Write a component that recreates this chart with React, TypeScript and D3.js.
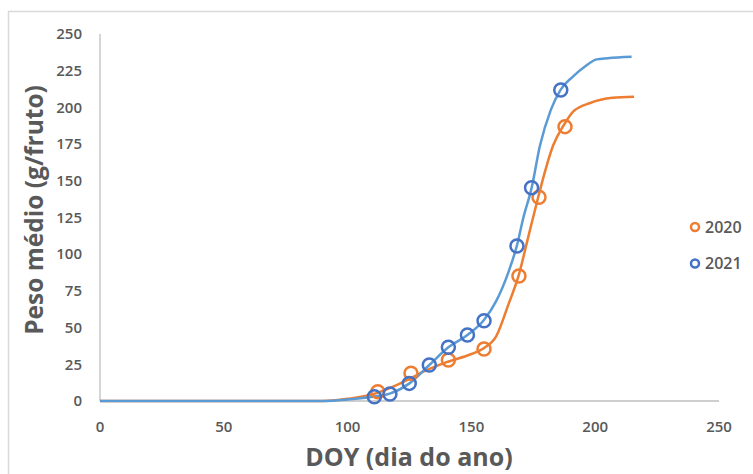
import React from "react";
import * as d3 from "d3";

const xTicks = [0, 50, 100, 150, 200, 250];
const yTicks = [0, 25, 50, 75, 100, 125, 150, 175, 200, 225, 250];

// Observed points
const obs2020X = [112.2, 125.6, 140.7, 155.1, 169.2, 177.3, 187.8];
const obs2020Y = [6.3, 18.9, 27.9, 35.4, 85.1, 138.8, 186.9];
const obs2021X = [110.8, 117.1, 124.9, 133.0, 140.7, 148.4, 155.1, 168.4, 174.3, 186.1];
const obs2021Y = [2.9, 4.8, 12.0, 24.5, 36.6, 45.0, 54.7, 105.6, 145.3, 211.9];

// Fitted curves
const fit2020X = [0, 90, 100, 111, 120, 125, 130, 140, 150, 155, 160, 165, 169, 173, 177, 180, 183, 187, 191, 198, 207, 215.7];
const fit2020Y = [0, 0, 1.5, 5, 11, 15, 19.5, 26.5, 32, 36, 44, 66, 85, 112, 139, 158, 174, 187, 197, 203, 206.5, 207.3];
const fit2021X = [0, 90, 100, 110.8, 117, 125, 133, 140.7, 148.4, 155, 160, 165, 168.4, 171, 174.3, 177.7, 182, 186, 191, 196, 200.6, 205, 214.7];
const fit2021Y = [0, 0, 1, 3, 5, 12, 24.5, 36.6, 45, 55, 68, 88, 106, 125, 145, 174, 198, 212, 221, 228, 232.7, 233.5, 234.5];

const seriesNames = ["2020", "2021"];

const W = 753;
const H = 474;
const FONT = "'Open Sans', 'Liberation Sans', sans-serif";
const ORANGE = "#ED7D31";
const BLUE_LINE = "#5B9BD5";
const BLUE_MARK = "#4472C4";
const GRAY = "#595959";

export default function App() {
  const x = d3.scaleLinear().domain([0, 250]).range([100, 719]);
  const y = d3.scaleLinear().domain([0, 250]).range([401, 34]);
  const line = d3
    .line<[number, number]>()
    .x((d) => x(d[0]))
    .y((d) => y(d[1]))
    .curve(d3.curveMonotoneX);

  const f2020 = fit2020X.map((v, i) => [v, fit2020Y[i]] as [number, number]);
  const f2021 = fit2021X.map((v, i) => [v, fit2021Y[i]] as [number, number]);

  return (
    <svg
      width={W}
      height={H}
      style={{ position: "absolute", left: 0, top: 0, background: "#fff" }}
      fontFamily={FONT}
    >
      <rect x={8.5} y={11.5} width={900} height={600} fill="#fff" stroke="#d9d9d9" strokeWidth={1.5} />
      {/* axes */}
      <line x1={x(0)} x2={x(250)} y1={y(0)} y2={y(0)} stroke="#bfbfbf" strokeWidth={1.3} />
      <line x1={x(0)} x2={x(0)} y1={y(0)} y2={y(250)} stroke="#bfbfbf" strokeWidth={1.3} />
      {yTicks.map((t) => (
        <text key={"y" + t} x={82} y={y(t)} dy="0.35em" textAnchor="end" fontSize={15} fontWeight={600} fill={GRAY}>
          {t}
        </text>
      ))}
      {xTicks.map((t) => (
        <text key={"x" + t} x={x(t)} y={432} textAnchor="middle" fontSize={15} fontWeight={600} fill={GRAY}>
          {t}
        </text>
      ))}
      <text x={409} y={466} textAnchor="middle" fontSize={25} fontWeight={700} fill={GRAY}>
        DOY (dia do ano)
      </text>
      <text
        transform={`translate(43,${210}) rotate(-90)`}
        textAnchor="middle"
        fontSize={24.5}
        fontWeight={700}
        fill={GRAY}
      >
        Peso médio (g/fruto)
      </text>
      {/* curves */}
      <path d={line(f2020) || ""} fill="none" stroke={ORANGE} strokeWidth={2.5} />
      <path d={line(f2021) || ""} fill="none" stroke={BLUE_LINE} strokeWidth={2.5} />
      {obs2020X.map((v, i) => (
        <circle key={"o" + i} cx={x(v)} cy={y(obs2020Y[i])} r={6.5} fill="none" stroke={ORANGE} strokeWidth={2.5} />
      ))}
      {obs2021X.map((v, i) => (
        <circle key={"b" + i} cx={x(v)} cy={y(obs2021Y[i])} r={6.5} fill="none" stroke={BLUE_MARK} strokeWidth={2.5} />
      ))}
      {/* legend */}
      {seriesNames.map((n, i) => (
        <g key={n} transform={`translate(695,${227 + i * 36.5})`}>
          <circle cx={0} cy={0} r={4} fill="none" stroke={i === 0 ? ORANGE : BLUE_MARK} strokeWidth={2.5} />
          <text x={10} y={0} dy="0.35em" fontSize={16} fontWeight={600} fill={GRAY}>
            {n}
          </text>
        </g>
      ))}
    </svg>
  );
}
